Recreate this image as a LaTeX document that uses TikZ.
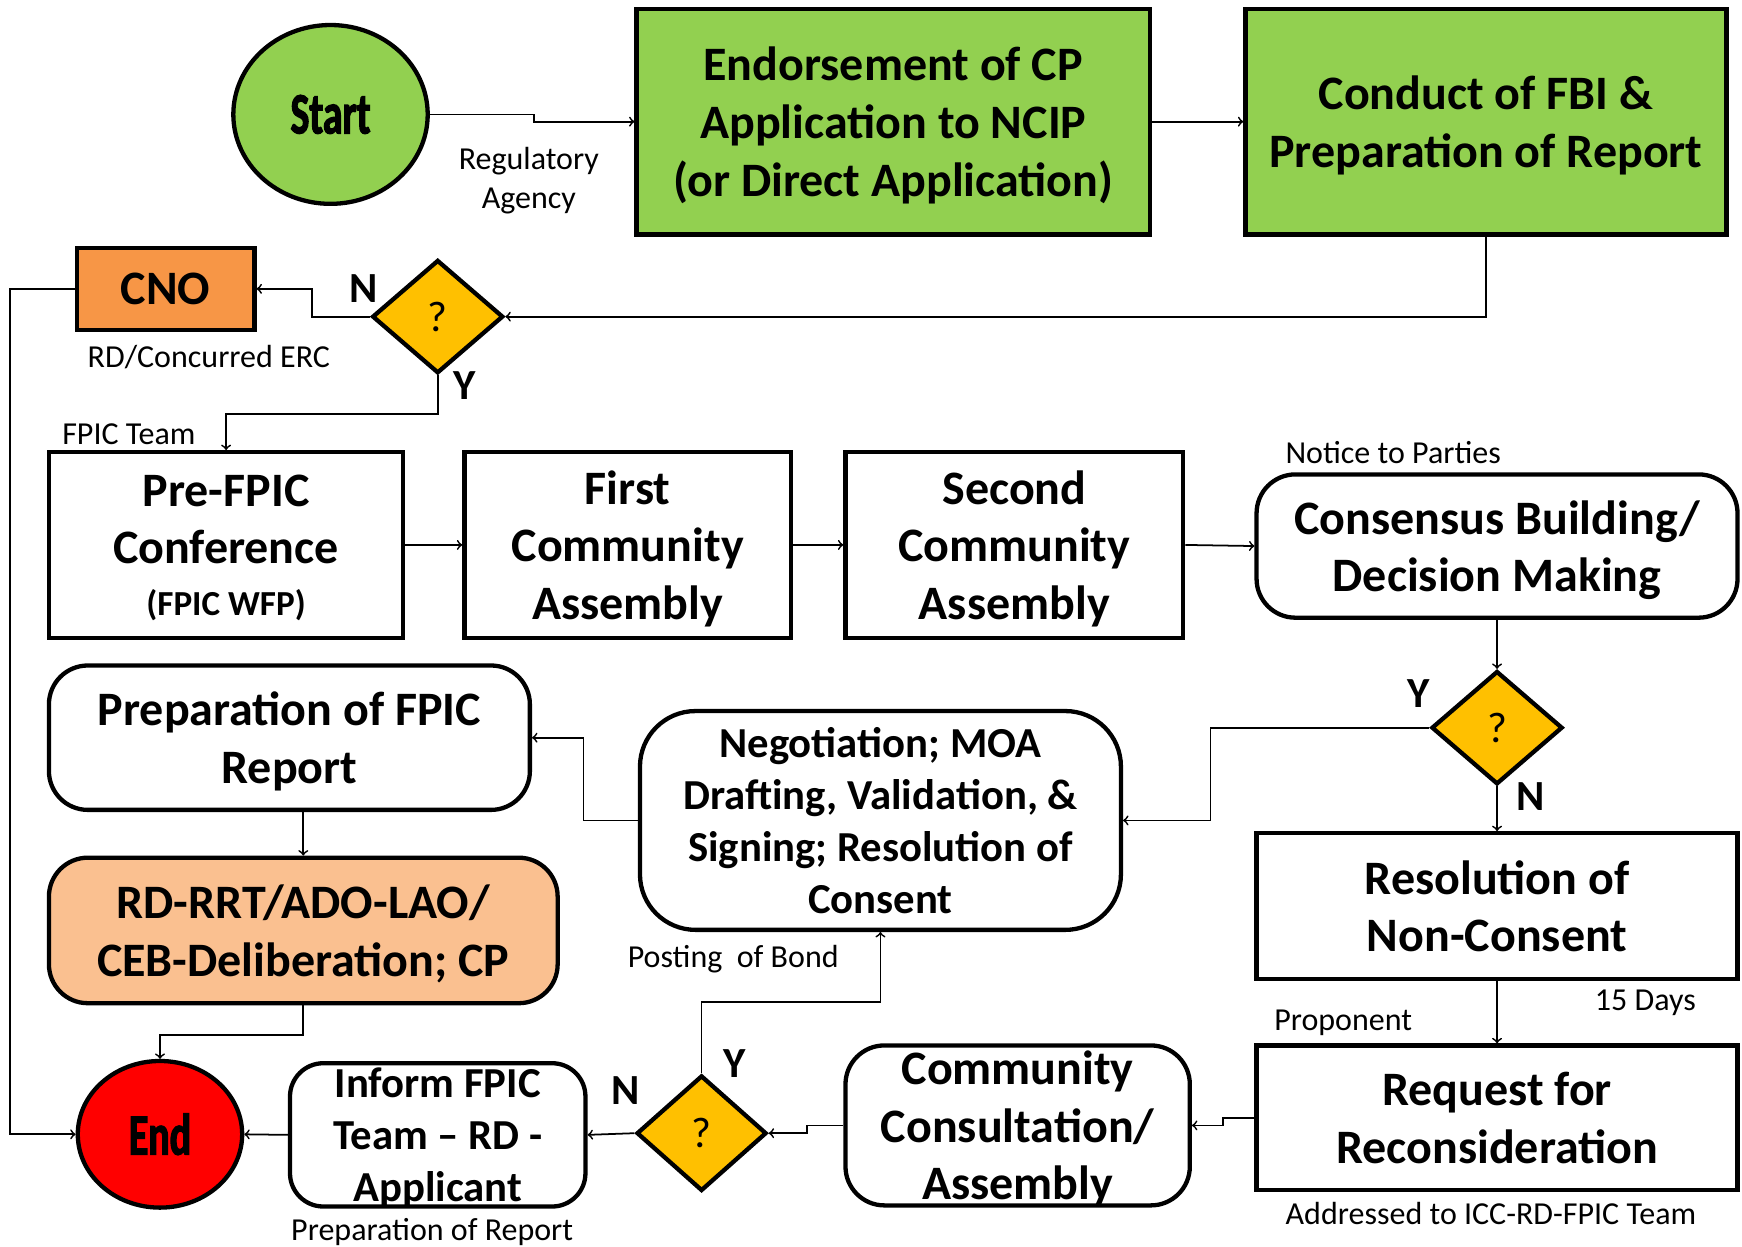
\documentclass[tikz,border=0pt]{standalone}
\usepackage{fontspec}
\setmainfont{Carlito}
\newfontfamily\heavyfont{Carlito}[FakeStretch=0.68,FakeBold=2]
\usetikzlibrary{shapes.geometric}
\definecolor{leafgreen}{HTML}{92D050}
\definecolor{cnoorange}{HTML}{F79646}
\definecolor{peach}{HTML}{FAC090}
\definecolor{amber}{HTML}{FFC000}
\newcommand\bigtext{\fontsize{24.6}{29.5}\selectfont\bfseries}
\newcommand\midtext{\fontsize{21.9}{26.5}\selectfont\bfseries}
\newcommand\smalltext{\fontsize{18}{22}\selectfont\bfseries}
\newcommand\heavytext{\heavyfont\bfseries\fontsize{30}{30}\selectfont}
\tikzset{
  box/.style={draw, line width=2.2pt, inner sep=0pt, align=center, fill=white, font=\bigtext, text depth=0pt},
  rbox/.style={box, rounded corners=0.7cm},
  decision/.style={draw, diamond, fill=amber, line width=2.2pt, inner sep=0pt,
    minimum width=2.36cm, minimum height=2.04cm, font=\fontsize{22}{22}\selectfont},
  terminal/.style={draw, ellipse, line width=2.2pt, inner sep=0pt, font=\heavytext},
  note/.style={align=center, font=\fontsize{16.4}{20}\selectfont},
  yn/.style={font=\fontsize{22}{22}\selectfont\bfseries},
  flow/.style={->, line width=0.9pt}
}
\begin{document}
\begin{tikzpicture}[x=0.02cm,y=-0.02cm]
\useasboundingbox (0,0) rectangle (1568,1122);
\node[terminal,fill=leafgreen,minimum width=3.5cm,minimum height=3.22cm] (start) at (297.5,103) {Start};
\node[box,fill=leafgreen,minimum width=9.24cm,minimum height=4.06cm] (endorse) at (804,109.5) {Endorsement of CP\\Application to NCIP\\(or Direct Application)};
\node[box,fill=leafgreen,minimum width=8.66cm,minimum height=4.06cm] (conduct) at (1337.5,109.5) {Conduct of FBI \&\\Preparation of Report};
\node[box,fill=cnoorange,minimum width=3.2cm,minimum height=1.48cm] (cno) at (149,260) {CNO};
\node[decision] (q1) at (394,285) {?};
\node[box,minimum width=6.38cm,minimum height=3.34cm,text depth=-6pt] (prefpic) at (203.5,490.5) {Pre-FPIC\\Conference\\[-3pt]{\smalltext (FPIC WFP)}};
\node[box,minimum width=5.88cm,minimum height=3.34cm] (first) at (565,490.5) {First\\Community\\Assembly};
\node[box,minimum width=6.08cm,minimum height=3.34cm] (second) at (913,490.5) {Second\\Community\\Assembly};
\node[rbox,minimum width=8.66cm,minimum height=2.58cm] (consensus) at (1347.5,491.5) {Consensus Building/\\Decision Making};
\node[decision] (q2) at (1347.5,655) {?};
\node[rbox,rounded corners=1cm,minimum width=8.66cm,minimum height=3.94cm,font=\midtext,text depth=-5pt] (negotiation) at (792.5,738.5) {Negotiation; MOA\\Drafting, Validation, \&\\Signing; Resolution of\\Consent};
\node[rbox,minimum width=8.66cm,minimum height=2.6cm] (prepfpic) at (260.5,664) {Preparation of FPIC\\Report};
\node[rbox,fill=peach,minimum width=9.16cm,minimum height=2.62cm,text depth=-2pt] (deliberation) at (273,837.5) {RD-RRT/ADO-LAO/\\CEB-Deliberation; CP};
\node[box,minimum width=8.66cm,minimum height=2.62cm,text depth=-3.5pt] (nonconsent) at (1347.5,815.5) {Resolution of\\Non-Consent};
\node[box,minimum width=8.66cm,minimum height=2.6cm,text depth=-3.5pt] (reconsider) at (1347.5,1006) {Request for\\Reconsideration};
\node[rbox,minimum width=6.2cm,minimum height=2.88cm,text depth=-3pt] (consult) at (916,1013) {Community\\Consultation/\\Assembly};
\node[decision,minimum width=2.34cm,minimum height=2.08cm] (q3) at (631.5,1020) {?};
\node[rbox,rounded corners=0.6cm,minimum width=5.32cm,minimum height=2.58cm,font=\midtext] (inform) at (394,1021.5) {Inform FPIC\\Team -- RD -\\Applicant};
\node[terminal,fill=red,minimum width=2.96cm,minimum height=2.64cm] (finish) at (144,1021) {End};
\node[note] (regagency) at (476,163) {Regulatory\\Agency};
\node[note] (concurred) at (188,321) {RD/Concurred ERC};
\node[note] (fpicteam) at (116,391) {FPIC Team};
\node[note] (notice) at (1254,407) {Notice to Parties};
\node[note] (bond) at (660,863) {Posting\ \ of Bond};
\node[note] (days) at (1481,903) {15 Days};
\node[note] (proponent) at (1209,921) {Proponent};
\node[note] (addressed) at (1342,1092) {Addressed to ICC-RD-FPIC Team};
\node[note] (prepreport) at (389,1109) {Preparation of Report};
\node[yn] (n1) at (327,260) {N}; \node[yn] (y1) at (418,347) {Y};
\node[yn] (y2) at (1277,624) {Y}; \node[yn] (n2) at (1378,717) {N};
\node[yn] (n3) at (563,982) {N}; \node[yn] (y3) at (661,957) {Y};
\draw[flow] (start.east) -- ++(94,0) |- (endorse.west);
\draw[flow] (endorse) -- (conduct);
\draw[flow] (conduct.south) |- (q1.east);
\draw[flow] (q1.west) -- ++(-52,0) |- (cno.east);
\draw[flow] (cno.west) -- ++(-58,0) |- (finish.west);
\draw[flow] (q1.south) -- ++(0,35) -| (prefpic.north);
\draw[flow] (prefpic) -- (first); \draw[flow] (first) -- (second);
\draw[flow] (second.east) -- (consensus.west);
\draw[flow] (consensus) -- (q2);
\draw[flow] (q2.west) -- ++(-197,0) |- (negotiation.east);
\draw[flow] (q2) -- (nonconsent);
\draw[flow] (negotiation.west) -- ++(-49,0) |- (prepfpic.east);
\draw[flow] (prepfpic.south -| deliberation.north) -- (deliberation.north);
\draw[flow] (deliberation.south) -- ++(0,27) -| (finish.north);
\draw[flow] (inform.west) -- (finish.east);
\draw[flow] (q3.west) -- (inform.east);
\draw[flow] (q3.north) -- ++(0,-64) -| (negotiation.south);
\draw[flow] (consult.west) -- ++(-33,0) |- (q3.east);
\draw[flow] (nonconsent) -- (reconsider);
\draw[flow] (reconsider.west) -- ++(-28,0) |- (consult.east);
\end{tikzpicture}
\end{document}
